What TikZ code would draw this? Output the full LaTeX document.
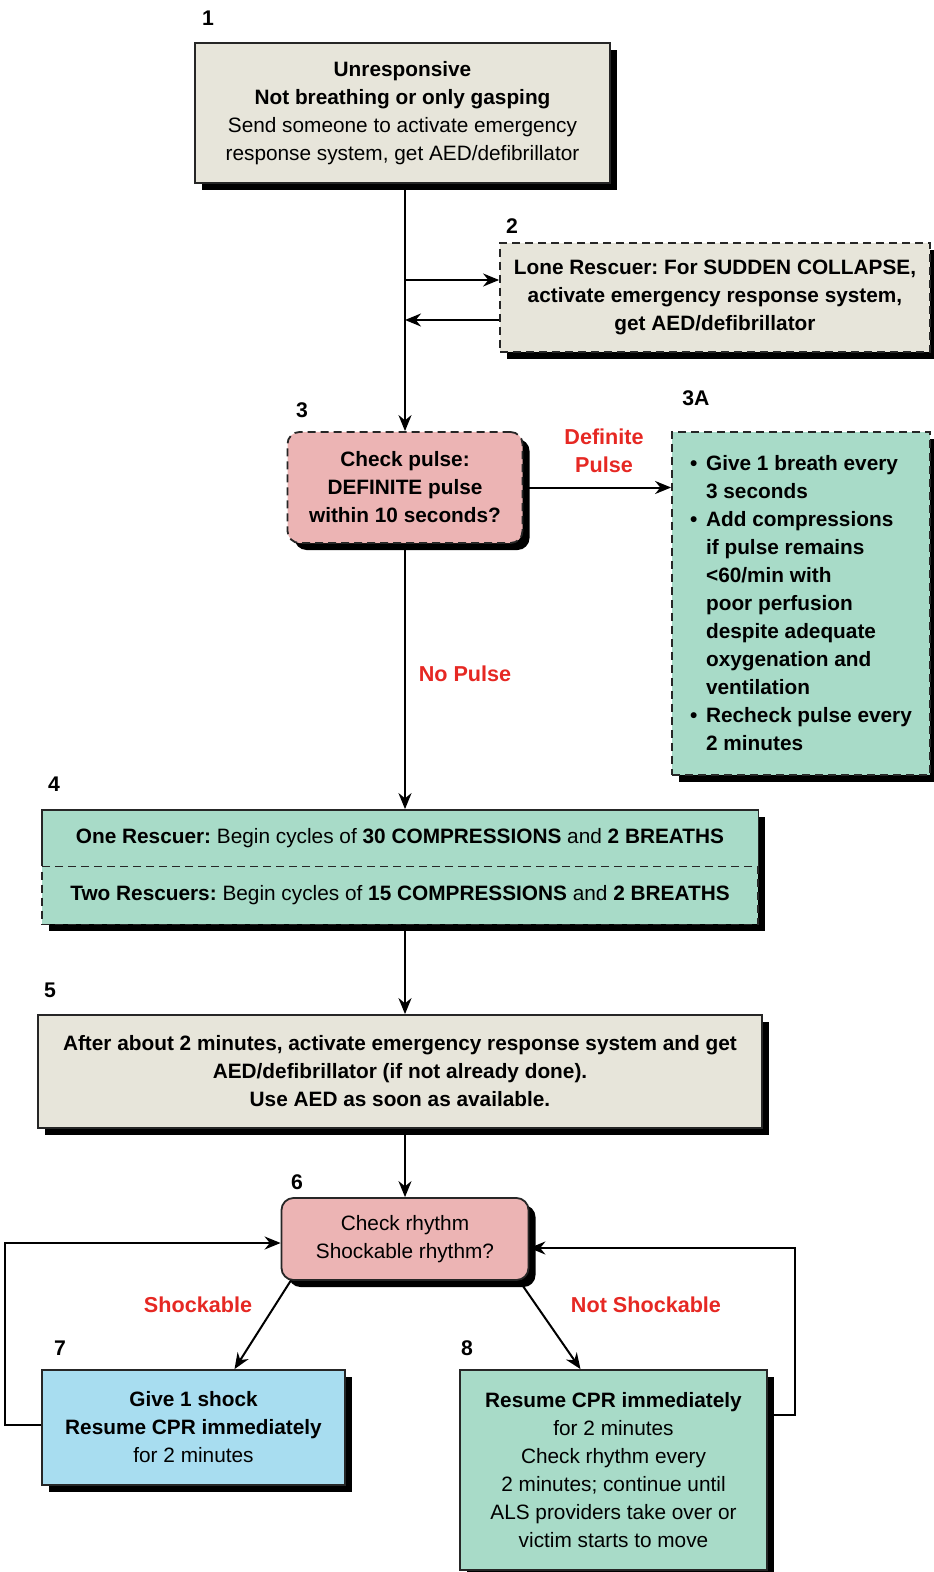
\documentclass[tikz,border=0pt]{standalone}
\usepackage{fontspec}
\setmainfont{Liberation Sans}
\usetikzlibrary{arrows.meta,shadows}
\definecolor{boxbeige}{RGB}{231,229,218}
\definecolor{boxpink}{RGB}{236,180,180}
\definecolor{boxgreen}{RGB}{168,219,200}
\definecolor{boxblue}{RGB}{168,221,240}
\definecolor{labred}{RGB}{230,40,35}
\newcommand{\bul}{\makebox[8pt][l]{\textbullet}}

\begin{document}
\frenchspacing
\begin{tikzpicture}[x=0.5pt,y=-0.5pt,
		font=\fontsize{10.4}{14}\selectfont,
		line/.style={draw=black!85,line width=0.9pt},
		box/.style={line,align=center,inner sep=0pt,drop shadow={shadow xshift=3.5pt,shadow yshift=-3.5pt,opacity=1,fill=black}},
		dashbox/.style={box,dash pattern=on 4pt off 2.5pt},
		num/.style={font=\fontsize{10.6}{14}\selectfont\bfseries},
		cond/.style={font=\fontsize{10.8}{14}\selectfont\bfseries,text=labred,align=center},
		arrow/.style={line width=1pt,-{Stealth[length=8pt,width=6.5pt]}}]
			\useasboundingbox[fill=white] (0,0) rectangle (933,1572);
			
			\node[box,fill=boxbeige,minimum width=207.5pt,minimum height=70pt] (box1) at (402.5,113) {\textbf{Unresponsive}\\\textbf{Not breathing or only gasping}\\Send someone to activate emergency\\response system, get AED/defibrillator};
			\node[dashbox,fill=boxbeige,minimum width=215pt,minimum height=54.5pt] (box2) at (715,297.5) {\bfseries Lone Rescuer: For SUDDEN COLLAPSE,\\\bfseries activate emergency response system,\\\bfseries get AED/defibrillator};
			\node[dashbox,fill=boxpink,rounded corners=6pt,minimum width=117.5pt,minimum height=55.5pt] (box3) at (405,487.5) {\bfseries Check pulse:\\\bfseries DEFINITE pulse\\\bfseries within 10 seconds?};
			\node[dashbox,fill=boxgreen,align=left,minimum width=129pt,minimum height=171.5pt] (box3a) at (801,603.5) {\bfseries\bul Give 1 breath every\\\bfseries\hspace*{8pt}3 seconds\\\bfseries\bul Add compressions\\\bfseries\hspace*{8pt}if pulse remains\\\bfseries\hspace*{8pt}<60/min with\\\bfseries\hspace*{8pt}poor perfusion\\\bfseries\hspace*{8pt}despite adequate\\\bfseries\hspace*{8pt}oxygenation and\\\bfseries\hspace*{8pt}ventilation\\\bfseries\bul Recheck pulse every\\\bfseries\hspace*{8pt}2 minutes};
			
			\node[box,draw=none,fill=boxgreen,minimum width=358pt,minimum height=57pt] (box4) at (400,867) {};
			\node[inner sep=0pt,minimum width=358pt,minimum height=28pt] (row1) at (400,838) {\textbf{One Rescuer:} Begin cycles of \textbf{30 COMPRESSIONS} and \textbf{2 BREATHS}};
			\node[line,dash pattern=on 4pt off 2.5pt,inner sep=0pt,minimum width=358pt,minimum height=29pt] (row2) at (400,895.5) {\textbf{Two Rescuers:} Begin cycles of \textbf{15 COMPRESSIONS} and \textbf{2 BREATHS}};
			\draw[line] (row1.south west) -- (row1.north west) -- (row1.north east) -- (row1.south east);
			
			\node[box,fill=boxbeige,minimum width=362pt,minimum height=56.5pt] (box5) at (400,1071.5) {\bfseries After about 2 minutes, activate emergency response system and get\\\bfseries AED/defibrillator (if not already done).\\\bfseries Use AED as soon as available.};
			\node[box,fill=boxpink,rounded corners=6pt,minimum width=123.5pt,minimum height=41pt] (box6) at (405,1239) {Check rhythm\\Shockable rhythm?};
			\node[box,fill=boxblue,minimum width=151.5pt,minimum height=57.5pt] (box7) at (193.5,1427.5) {\textbf{Give 1 shock}\\\textbf{Resume CPR immediately}\\for 2 minutes};
			\node[box,fill=boxgreen,minimum width=153.5pt,minimum height=100pt] (box8) at (613.5,1470) {\textbf{Resume CPR immediately}\\for 2 minutes\\Check rhythm every\\2 minutes; continue until\\ALS providers take over or\\victim starts to move};
			
			\node[num] (n1) at (208,18) {1};
			\node[num] (n2) at (512,226) {2};
			\node[num] (n3) at (302,410) {3};
			\node[num] (n3a) at (696,398) {3A};
			\node[num] (n4) at (54,784) {4};
			\node[num] (n5) at (50,990) {5};
			\node[num] (n6) at (297,1182) {6};
			\node[num] (n7) at (60,1348) {7};
			\node[num] (n8) at (467,1348) {8};
			
			\node[cond] (lpulse) at (604,451) {Definite\\Pulse};
			\node[cond] (lnopulse) at (465,674) {No Pulse};
			\node[cond] (lshock) at (198,1305) {Shockable};
			\node[cond] (lnoshock) at (646,1305) {Not Shockable};
			
			\coordinate (in2) at (405,280);
			\coordinate (out2) at (405,320);
			\coordinate (l7) at (5,1425);
			\coordinate (r8) at (795,1415);
			\draw[arrow] (box1.south -| box3.north) -- (box3.north);
			\draw[arrow] (in2) -- (in2 -| box2.west);
			\draw[arrow] (out2 -| box2.west) -- (out2);
			\draw[arrow] (box3.east) -- (box3.east -| box3a.west);
			\draw[arrow] (box3.south) -- (box4.north -| box3.south);
			\draw[arrow] (box4.south -| box3.south) -- (box5.north -| box3.south);
			\draw[arrow] (box5.south -| box6.north) -- (box6.north);
			\draw[arrow] ([xshift=5pt]box6.south west) -- ([xshift=20.5pt]box7.north);
			\draw[arrow] ([xshift=-5pt]box6.south east) -- ([xshift=-16.5pt]box8.north);
			\draw[arrow] (l7 -| box7.west) -- (l7) |- ([yshift=-2pt]box6.west);
			\draw[arrow] (r8 -| box8.east) -- (r8) |- ([yshift=-4.5pt]box6.east);
		\end{tikzpicture}
\end{document}
